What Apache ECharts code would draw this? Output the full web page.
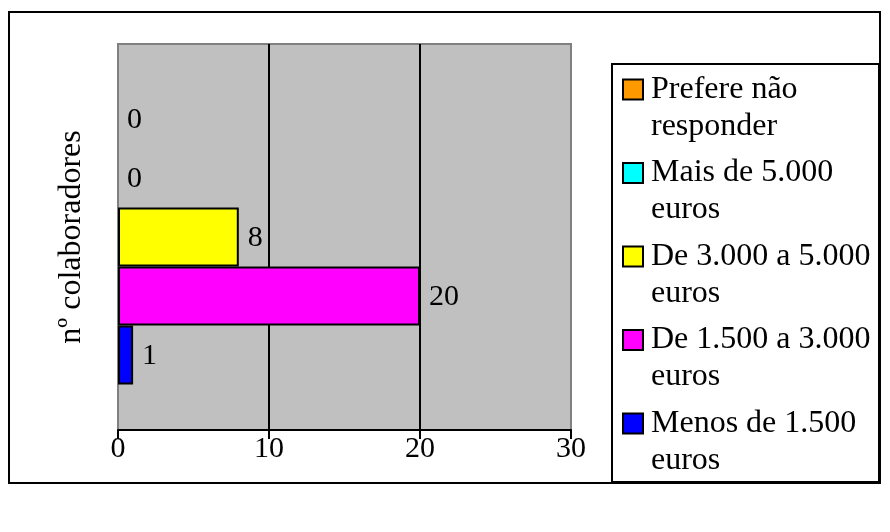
<!DOCTYPE html>
<html>
<head>
<meta charset="utf-8">
<script src="https://cdn.jsdelivr.net/npm/echarts@6/dist/echarts.min.js"></script>
<style>
  html, body { margin: 0; padding: 0; background: #ffffff; }
  #chart { width: 890px; height: 532px; }
</style>
</head>
<body>
<div id="chart"></div>
<script>
// Salary bands of the collaborators (one category, one bar per band, top to bottom)
const categories = ['nº colaboradores'];
const seriesNames = [
  'Prefere não responder',
  'Mais de 5.000 euros',
  'De 3.000 a 5.000 euros',
  'De 1.500 a 3.000 euros',
  'Menos de 1.500 euros'
];
const seriesValues = [0, 0, 8, 20, 1];
const seriesColors = ['#ff9900', '#00ffff', '#ffff00', '#ff00ff', '#0000ff'];
const xTicks = [0, 10, 20, 30];

const FONT = 'Liberation Serif, Times New Roman, serif';

const chart = echarts.init(document.getElementById('chart'));

const series = seriesNames.map((name, i) => ({
  name: name,
  type: 'bar',
  barGap: '0%',
  barCategoryGap: '23.6%',
  itemStyle: { color: seriesColors[i], borderColor: '#000000', borderWidth: 2 },
  label: {
    show: true,
    position: 'right',
    distance: 9,
    offset: [0, 1],
    fontFamily: FONT,
    fontSize: 30,
    color: '#000000'
  },
  data: [seriesValues[i]].map(v => ({
    value: v,
    itemStyle: { borderWidth: v === 0 ? 0 : 2 }
  }))
}));

chart.setOption({
  backgroundColor: '#ffffff',
  animation: false,
  grid: {
    left: 118, right: 319, top: 44, bottom: 102,
    outerBoundsMode: 'none',
    show: true,
    backgroundColor: '#c0c0c0',
    borderColor: '#808080',
    borderWidth: 2
  },
  xAxis: {
    type: 'value',
    min: xTicks[0],
    max: xTicks[xTicks.length - 1],
    interval: xTicks[1] - xTicks[0],
    axisLine: { show: true, lineStyle: { color: '#000000', width: 2 } },
    axisTick: { show: true, length: 9, lineStyle: { color: '#000000', width: 2 } },
    axisLabel: { fontFamily: FONT, fontSize: 30, color: '#000000', margin: 4 },
    splitLine: {
      show: true,
      showMinLine: false,
      showMaxLine: false,
      lineStyle: { color: '#000000', width: 2 }
    }
  },
  yAxis: {
    type: 'category',
    data: categories,
    axisLine: { show: false },
    axisTick: { show: false },
    axisLabel: { show: false },
    splitLine: { show: false },
    name: 'nº colaboradores',
    nameLocation: 'middle',
    nameRotate: 90,
    nameGap: 30,
    nameTextStyle: { fontFamily: FONT, fontSize: 32, color: '#000000' }
  },
  legend: {
    orient: 'vertical',
    left: 622,
    top: 34,
    padding: 0,
    itemWidth: 20,
    itemHeight: 20,
    itemGap: -27.5,
    icon: 'rect',
    selectedMode: false,
    itemStyle: { borderColor: '#000000', borderWidth: 2 },
    // leading blank line keeps the marker level with the first text line
    formatter: name => '\n' + name,
    textStyle: {
      fontFamily: FONT,
      fontSize: 32,
      color: '#000000',
      lineHeight: 37,
      padding: [0, 0, 0, 3],
      width: 232,
      overflow: 'break'
    },
    data: seriesNames
  },
  graphic: [
    {
      type: 'rect',
      z: -1,
      shape: { x: 612, y: 64, width: 267, height: 418 },
      style: { fill: '#ffffff', stroke: '#000000', lineWidth: 2 }
    },
    {
      type: 'rect',
      z: -1,
      shape: { x: 9, y: 12, width: 871, height: 471 },
      style: { fill: 'none', stroke: '#000000', lineWidth: 2 }
    }
  ],
  series: series
});
</script>
</body>
</html>
